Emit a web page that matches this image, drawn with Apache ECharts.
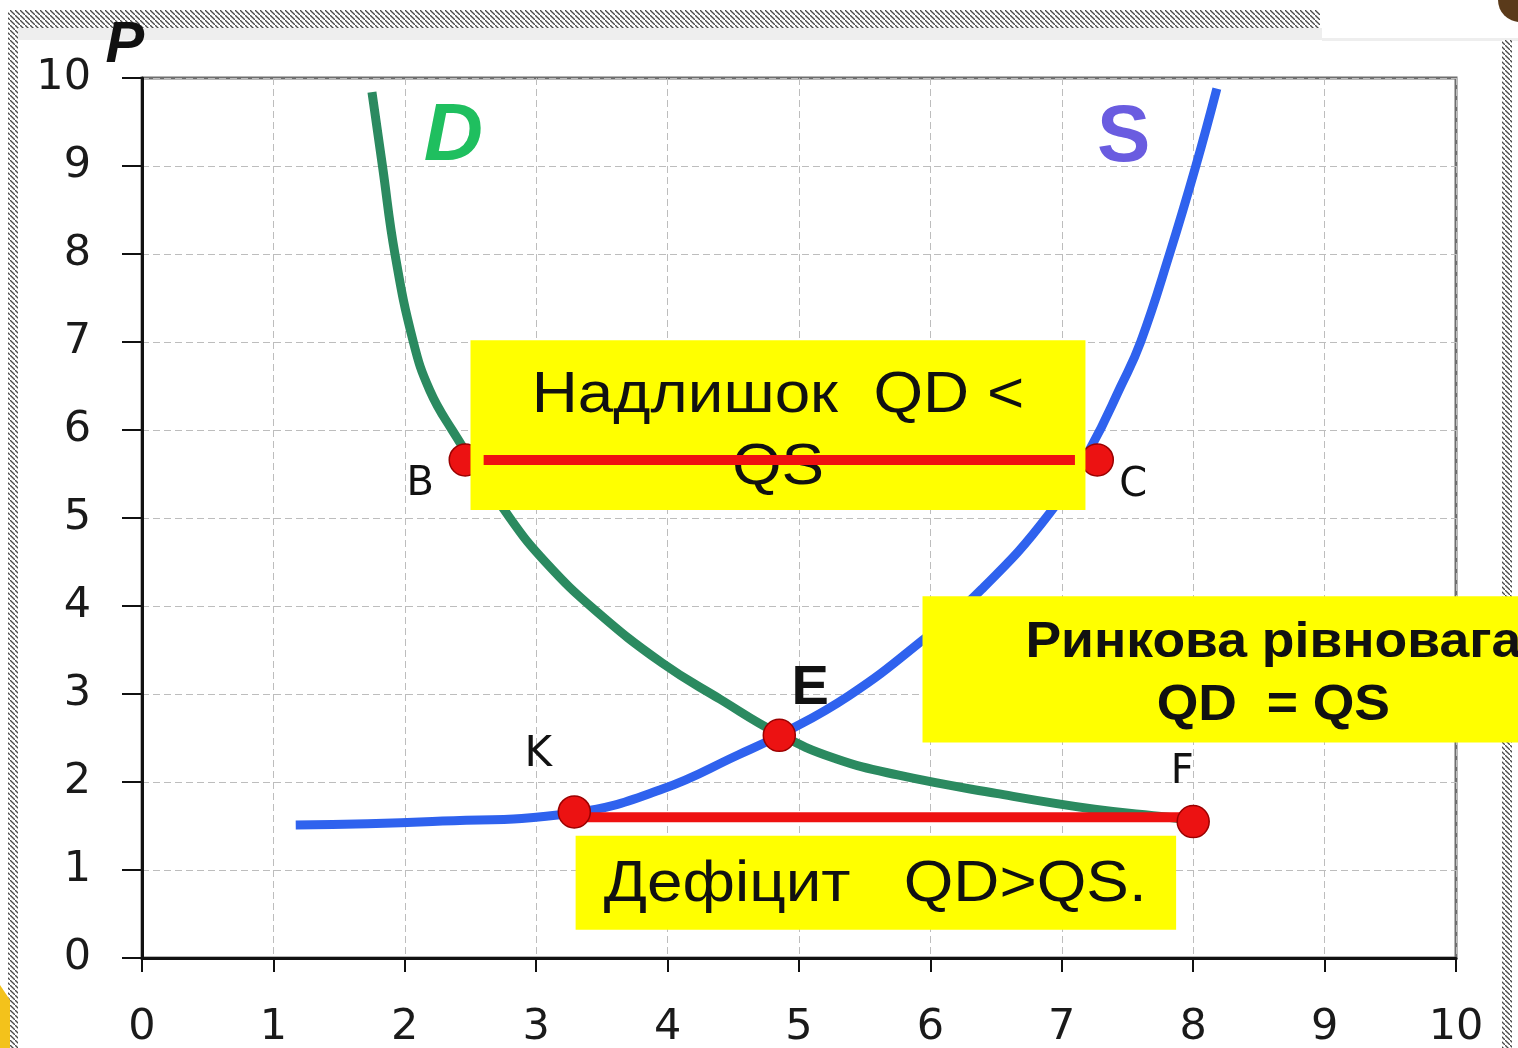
<!DOCTYPE html>
<html><head><meta charset="utf-8">
<script src="https://cdn.jsdelivr.net/npm/echarts@6/dist/echarts.min.js"></script>
<style>html,body{margin:0;padding:0;background:#fff}#c{width:1518px;height:1048px}</style>
</head><body><div id="c"></div>
<script>
// ---- data ----
const demandQ = [1.75, 1.83, 1.925, 2.065, 2.19, 2.36, 2.80, 3.07, 3.45, 3.96, 4.40, 4.84, 5.27, 5.75, 6.50, 7.25, 7.81, 8.00];
const demandP = [9.84, 9.00, 8.00, 7.00, 6.45, 6.00, 5.00, 4.50, 3.95, 3.35, 2.94, 2.55, 2.27, 2.08, 1.87, 1.69, 1.60, 1.56];
const supplyQ = [1.17, 2.21, 3.29, 3.96, 4.54, 4.85, 5.38, 5.94, 6.39, 6.91, 7.22, 7.45, 7.60, 7.82, 8.02, 8.18];
const supplyP = [1.51, 1.55, 1.65, 1.92, 2.31, 2.53, 2.98, 3.61, 4.19, 5.06, 5.80, 6.50, 7.00, 8.00, 9.00, 9.88];
const pointNames = ['B', 'C', 'E', 'K', 'F'];
const pointQ = [2.46, 7.27, 4.85, 3.29, 8.00];
const pointP = [5.66, 5.66, 2.53, 1.66, 1.55];
const surplusQ = [2.60, 7.10];
const surplusP = [5.66, 5.66];
const shortageQ = [3.29, 8.00];
const shortageP = [1.60, 1.60];
const boxTexts = ['Надлишок  QD <\nQS', 'Дефіцит   QD>QS.', 'Ринкова рівновага\nQD  = QS'];
const boxQFrom = [2.50, 3.30, 5.94];
const boxQTo = [7.18, 7.87, 10.70];
const boxPFrom = [5.09, 0.32, 2.45];
const boxPTo = [7.02, 1.39, 4.11];
const boxTextQ = [4.84, 5.58, 8.61];
const boxTextP = [5.98, 0.83, 3.22];
const curveNames = ['D', 'S', 'P'];
const curveNameQ = [2.37, 7.47, -0.13];
const curveNameP = [9.32, 9.31, 10.36];
const axisMin = 0, axisMax = 10, axisStep = 1;

// ---- chart ----
const FONT = '"Liberation Sans", Arial, sans-serif';
const AXFONT = '"DejaVu Sans", sans-serif';
const chart = echarts.init(document.getElementById('c'), null, {renderer: 'canvas'});

function hatchCanvas() {
  const c = document.createElement('canvas'); c.width = 5; c.height = 5;
  const g = c.getContext('2d');
  g.fillStyle = '#ffffff'; g.fillRect(0, 0, 5, 5);
  g.strokeStyle = '#4a4a4a'; g.lineWidth = 1.3;
  g.beginPath(); g.moveTo(-1, -1); g.lineTo(6, 6); g.stroke();
  return c;
}
const hatch = {image: hatchCanvas(), repeat: 'repeat'};

const pts = pointNames.map((n, i) => ({name: n, value: [pointQ[i], pointP[i]]}));
const labelCfg = {
  B: {offset: [-45, 25], fontWeight: 'normal', fontSize: 40},
  C: {offset: [36, 26], fontWeight: 'normal', fontSize: 40},
  E: {offset: [31, -47], fontWeight: 'bold', fontSize: 56},
  K: {offset: [-36, -57], fontWeight: 'normal', fontSize: 42},
  F: {offset: [-11, -49], fontWeight: 'normal', fontSize: 40}
};
function markerData(names) {
  return pts.filter(p => names.includes(p.name)).map(p => ({
    name: p.name, value: p.value,
    label: {show: true, formatter: p.name, position: 'inside', offset: labelCfg[p.name].offset,
      fontSize: labelCfg[p.name].fontSize, fontWeight: labelCfg[p.name].fontWeight,
      color: '#111', fontFamily: p.name === 'E' ? FONT : AXFONT}
  }));
}
const markerStyle = {color: '#ec1212', borderColor: '#9a0000', borderWidth: 1.5, opacity: 1};

const boxData = boxTexts.map((t, i) => [boxQFrom[i], boxQTo[i], boxPFrom[i], boxPTo[i], boxTextQ[i], boxTextP[i]]);
const boxFonts = [
  {fontSize: 58, fontWeight: 'normal', lineHeight: 72, sx: 1.1},
  {fontSize: 58, fontWeight: 'normal', lineHeight: 72, sx: 1.1},
  {fontSize: 50, fontWeight: 'bold', lineHeight: 63, sx: 1.07}
];
const nameData = curveNames.map((n, i) => [curveNameQ[i], curveNameP[i]]);
const nameStyles = [
  {fill: '#1fbf5f', fontSize: 82, fontWeight: 'bold', fontStyle: 'italic'},
  {fill: '#6a5ce0', fontSize: 80, fontWeight: 'bold', fontStyle: 'normal'},
  {fill: '#111111', fontSize: 58, fontWeight: 'bold', fontStyle: 'italic'}
];

const option = {
  backgroundColor: '#ffffff',
  animation: false,
  graphic: [
    {type: 'rect', z: -10, shape: {x: 10, y: 10, width: 1310, height: 18}, style: {fill: hatch}, silent: true},
    {type: 'rect', z: -10, shape: {x: 8, y: 10, width: 10, height: 1038}, style: {fill: hatch}, silent: true},
    {type: 'rect', z: -10, shape: {x: 1502, y: 40, width: 10, height: 1008}, style: {fill: hatch}, silent: true},
    {type: 'rect', z: -11, shape: {x: 18, y: 28, width: 1304, height: 12}, style: {fill: '#eeeeee'}, silent: true},
    {type: 'rect', z: -11, shape: {x: 1322, y: 38, width: 196, height: 3}, style: {fill: '#eeeeee'}, silent: true},
    {type: 'polygon', z: -9, shape: {points: [[0, 985], [10, 1000], [10, 1048], [0, 1048]]}, style: {fill: '#f3c21b'}, silent: true},
    {type: 'circle', z: -9, shape: {cx: 1520, cy: 0, r: 22}, style: {fill: '#5a3a1a'}, silent: true}
  ],
  grid: {left: 142, right: 62, top: 78, bottom: 90, containLabel: false, outerBoundsMode: 'none',
    show: true, borderColor: '#6e6e6e', borderWidth: 3, backgroundColor: 'transparent'},
  xAxis: {
    type: 'value', min: axisMin, max: axisMax, interval: axisStep,
    axisLine: {show: true, onZero: false, lineStyle: {color: '#111', width: 3}},
    axisTick: {show: true, length: 14, lineStyle: {color: '#111', width: 2}},
    axisLabel: {fontSize: 43, color: '#1a1a1a', margin: 48, fontFamily: AXFONT},
    splitLine: {show: true, lineStyle: {color: '#bdbdbd', width: 1, type: [7, 4]}}
  },
  yAxis: {
    type: 'value', min: axisMin, max: axisMax, interval: axisStep,
    axisLine: {show: true, onZero: false, lineStyle: {color: '#111', width: 3}},
    axisTick: {show: true, length: 20, lineStyle: {color: '#111', width: 2}},
    axisLabel: {fontSize: 43, color: '#1a1a1a', margin: 51, fontFamily: AXFONT},
    splitLine: {show: true, lineStyle: {color: '#bdbdbd', width: 1, type: [7, 4]}}
  },
  series: [
    {name: 'D', type: 'line', z: 2, smooth: 0.45, symbol: 'none', clip: true,
      data: demandQ.map((q, i) => [q, demandP[i]]),
      lineStyle: {color: '#2b8a60', width: 9}},
    {name: 'S', type: 'line', z: 2, smooth: 0.45, symbol: 'none', clip: true,
      data: supplyQ.map((q, i) => [q, supplyP[i]]),
      lineStyle: {color: '#2f62ee', width: 9}},
    {name: 'hidden points', type: 'scatter', z: 3, symbolSize: 32, itemStyle: markerStyle,
      data: markerData(['B', 'C'])},
    {name: 'boxes', type: 'custom', z: 4, clip: false,
      encode: {x: [0, 1, 4], y: [2, 3, 5]},
      data: boxData,
      renderItem: function (params, api) {
        const a = api.coord([api.value(0), api.value(3)]);
        const b = api.coord([api.value(1), api.value(2)]);
        const t = api.coord([api.value(4), api.value(5)]);
        const f = boxFonts[params.dataIndex];
        return {type: 'group', children: [
          {type: 'rect', shape: {x: a[0], y: a[1], width: b[0] - a[0], height: b[1] - a[1]}, style: {fill: '#ffff00'}},
          {type: 'text', x: t[0], y: t[1], scaleX: f.sx, scaleY: 1, style: {text: boxTexts[params.dataIndex], fill: '#111',
            fontSize: f.fontSize, fontWeight: f.fontWeight, fontFamily: FONT, lineHeight: f.lineHeight,
            align: 'center', verticalAlign: 'middle'}}
        ]};
      }},
    {name: 'surplus', type: 'line', z: 5, symbol: 'none', clip: false,
      data: surplusQ.map((q, i) => [q, surplusP[i]]),
      lineStyle: {color: '#ee1111', width: 10}},
    {name: 'shortage', type: 'line', z: 5, symbol: 'none', clip: false,
      data: shortageQ.map((q, i) => [q, shortageP[i]]),
      lineStyle: {color: '#ee1111', width: 10}},
    {name: 'points', type: 'scatter', z: 6, symbolSize: 32, itemStyle: markerStyle,
      data: markerData(['E', 'K', 'F'])},
    {name: 'curve names', type: 'custom', z: 7, clip: false,
      data: nameData,
      renderItem: function (params, api) {
        const p = api.coord([api.value(0), api.value(1)]);
        const s = nameStyles[params.dataIndex];
        return {type: 'text', x: p[0], y: p[1], style: {text: curveNames[params.dataIndex], fill: s.fill,
          fontSize: s.fontSize, fontWeight: s.fontWeight, fontStyle: s.fontStyle, fontFamily: FONT,
          align: 'center', verticalAlign: 'middle'}};
      }}
  ]
};
chart.setOption(option);
</script>
</body></html>
